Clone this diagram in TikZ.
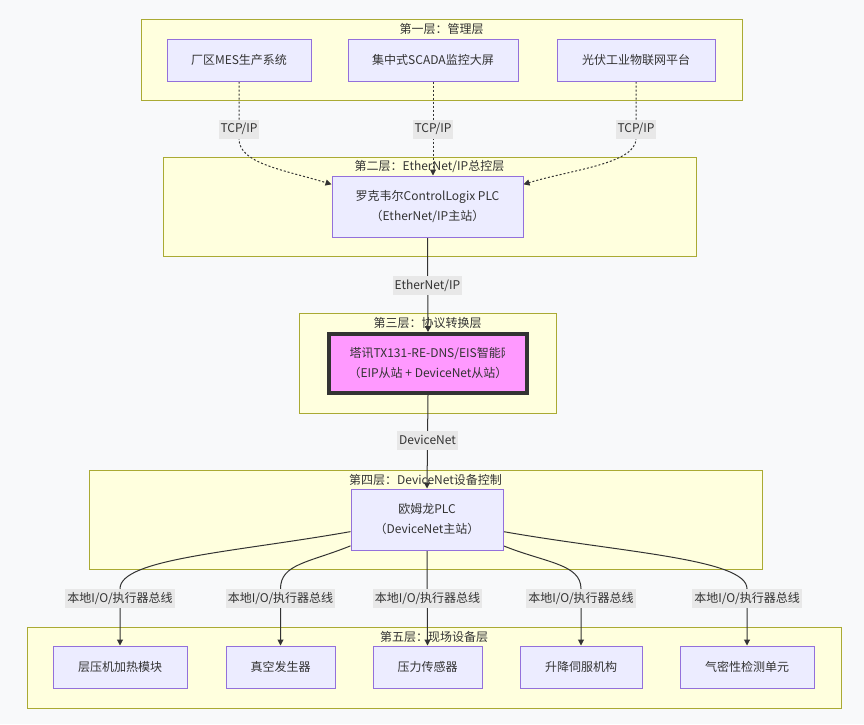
\documentclass[tikz,border=0pt]{standalone}
\usepackage{fontspec}
\setmainfont{Noto Sans CJK SC}
\usetikzlibrary{arrows.meta,positioning,calc}
\definecolor{bgc}{HTML}{F8F9FA}
\definecolor{tierfill}{HTML}{FFFFDE}
\definecolor{tierline}{HTML}{AAAA33}
\definecolor{devfill}{HTML}{ECECFF}
\definecolor{devline}{HTML}{9370DB}
\definecolor{convfill}{HTML}{FF99FF}
\definecolor{txt}{HTML}{333333}
\definecolor{lblfill}{HTML}{E8E8E8}
\pgfdeclarelayer{back}
\pgfdeclarelayer{links}
\pgfsetlayers{back,links,main}

\begin{document}
\begin{tikzpicture}[
		x=1pt, y=1pt,
		>={Triangle[length=6pt,width=6pt]},
		font=\fontsize{12}{20}\selectfont,
		every node/.style={text=txt},
		tier/.style={draw=tierline, fill=tierfill, line width=1pt},
		ttl/.style={inner sep=0pt},
		dev/.style={draw=devline, fill=devfill, line width=1pt, align=center, minimum height=42},
		conv/.style={draw=txt, fill=convfill, line width=4pt, minimum width=198, minimum height=59},
		lbl/.style={fill=lblfill, inner xsep=2pt, inner ysep=0pt, minimum height=19},
		wire/.style={draw=txt, line width=1pt, ->},
		dots/.style={wire, dash pattern=on 2pt off 2pt}
		]
		
		\useasboundingbox (0,0) rectangle (864,-724);
		
		% -------------------------
		% Layers (background)
		% -------------------------
		\begin{pgfonlayer}{back}
			\fill[bgc] (0,0) rectangle (864,-724);
			\node[tier, minimum width=601, minimum height=81] (L1) at (441.5,-59.5) {};
			\node[tier, minimum width=533, minimum height=99] (L2) at (429.5,-206.5) {};
			\node[tier, minimum width=257, minimum height=100] (L3) at (427.5,-363) {};
			\node[tier, minimum width=673, minimum height=99] (L4) at (425.5,-519.5) {};
			\node[tier, minimum width=814, minimum height=81] (L5) at (434,-667.5) {};
			
			\node[ttl] (T1) at ([yshift=-10pt]L1.north) {第一层：管理层};
			\node[ttl] (T2) at ([yshift=-10pt]L2.north) {第二层：EtherNet/IP总控层};
			\node[ttl] (T3) at ([yshift=-10pt]L3.north) {第三层：协议转换层};
			\node[ttl] (T4) at ([yshift=-10pt]L4.north) {第四层：DeviceNet设备控制};
			\node[ttl] (T5) at ([yshift=-10pt]L5.north) {第五层：现场设备层};
		\end{pgfonlayer}
		
		% -------------------------
		% Management layer
		% -------------------------
		\node[dev, minimum width=144] (mes) at (239,-60) {厂区MES生产系统};
		\node[dev, minimum width=170] (scada) at (433,-60) {集中式SCADA监控大屏};
		\node[dev, minimum width=158] (pv) at (636,-60) {光伏工业物联网平台};
		
		% -------------------------
		% Control layers
		% -------------------------
		\node[dev, minimum width=191, minimum height=61] (plc) at (427.5,-206.5) {%
			罗克韦尔ControlLogix PLC\\
			（EtherNet/IP主站）
		};
		
		\node[conv] (conv) at (428,-363.5) {};
		\begin{scope}
			% first line is cut off at the right
			\clip ([xshift=22pt]conv.north west) -- ([xshift=-25pt]conv.north east)
				-- ([xshift=-25pt]conv.east) -- ([xshift=-20pt]conv.east)
				-- ([xshift=-20pt]conv.south east) -- ([xshift=22pt]conv.south west) -- cycle;
			\node[align=center] (convtxt) at (conv.center) {%
				\makebox[157pt][l]{塔讯TX131-RE-DNS/EIS智能网关}\\
				（EIP从站 + DeviceNet从站）
			};
		\end{scope}
		
		\node[dev, minimum width=152, minimum height=61] (omron) at (427,-519.5) {%
			欧姆龙PLC\\
			（DeviceNet主站）
		};
		
		% -------------------------
		% Field devices
		% -------------------------
		\node[dev, minimum width=134] (heat) at (120,-667) {层压机加热模块};
		\node[dev, minimum width=109] (vac) at (280.5,-667) {真空发生器};
		\node[dev, minimum width=109] (pres) at (427.5,-667) {压力传感器};
		\node[dev, minimum width=122] (lift) at (581,-667) {升降伺服机构};
		\node[dev, minimum width=134] (seal) at (747,-667) {气密性检测单元};
		
		% -------------------------
		% Edge labels
		% -------------------------
		\node[lbl] (tcpA) at (239,-129) {TCP/IP};
		\node[lbl] (tcpB) at (433,-129) {TCP/IP};
		\node[lbl] (tcpC) at (636,-129) {TCP/IP};
		\node[lbl] (eip) at (427.5,-285.5) {EtherNet/IP};
		\node[lbl] (dnet) at (427.5,-440) {DeviceNet};
		\node[lbl] (busA) at (120,-598.5) {本地I/O/执行器总线};
		\node[lbl] (busB) at (280.5,-598.5) {本地I/O/执行器总线};
		\node[lbl] (busC) at (427.5,-598.5) {本地I/O/执行器总线};
		\node[lbl] (busD) at (581,-598.5) {本地I/O/执行器总线};
		\node[lbl] (busE) at (747,-598.5) {本地I/O/执行器总线};
		
		% -------------------------
		% Arrows
		% -------------------------
		\begin{pgfonlayer}{links}
			\draw[dots] (mes.south) -- (tcpA.south) .. controls +(0,-25) and +(163:50) .. (plc.167);
			\draw[dots] (scada.south) -- (scada.south |- plc.north);
			\draw[dots] (pv.south) -- (tcpC.south) .. controls +(0,-25) and +(17:50) .. (plc.13);
			
			\draw[wire] (plc.south) -- (conv.north);
			\draw[wire] (conv.south) -- (omron.north);
			
			\draw[wire] (omron.189) .. controls +(190:120) and +(0,30) .. (busA.north) -- (heat.north);
			\draw[wire] (omron.199) .. controls +(202:45) and +(0,25) .. (busB.north) -- (vac.north);
			\draw[wire] (omron.south) -- (pres.north);
			\draw[wire] (omron.-19) .. controls +(-22:45) and +(0,25) .. (busD.north) -- (lift.north);
			\draw[wire] (omron.-9) .. controls +(-10:120) and +(0,30) .. (busE.north) -- (seal.north);
		\end{pgfonlayer}
		
	\end{tikzpicture}
\end{document}
